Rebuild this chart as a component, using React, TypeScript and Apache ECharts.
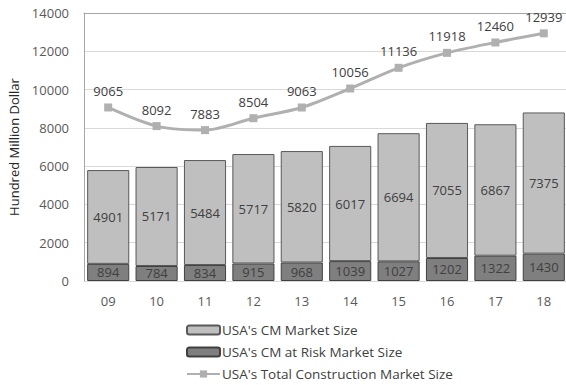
import React, { useEffect, useRef } from "react";
import * as echarts from "echarts";

const years = ["09", "10", "11", "12", "13", "14", "15", "16", "17", "18"];
const riskSize = [894, 784, 834, 915, 968, 1039, 1027, 1202, 1322, 1430];
const cmSize = [4901, 5171, 5484, 5717, 5820, 6017, 6694, 7055, 6867, 7375];
const totalSize = [9065, 8092, 7883, 8504, 9063, 10056, 11136, 11918, 12460, 12939];

const FONT = "'Open Sans', 'Noto Sans', sans-serif";
const TXT = "#404040";

export default function App() {
  const ref = useRef<HTMLDivElement>(null);
  useEffect(() => {
    const chart = echarts.init(ref.current!, null, { renderer: "svg" });
    chart.setOption({
      animation: false,
      textStyle: { fontFamily: FONT },
      grid: { left: 84, right: -2, top: 13, bottom: 104, containLabel: false, outerBoundsMode: "none" },
      legend: {
        orient: "vertical",
        left: 181,
        top: 318,
        height: 80,
        itemWidth: 33,
        itemHeight: 9,
        itemGap: 8,
        textStyle: { color: TXT, fontSize: 13.5, fontFamily: FONT, padding: [0, 0, 0, -3] },
        data: [
          { name: "USA's CM Market Size" },
          { name: "USA's CM at Risk Market Size" },
          { name: "USA's Total Construction Market Size" },
        ],
      },
      xAxis: [
        {
          type: "category",
          data: years,
          axisLine: { show: true, lineStyle: { color: "#d9d9d9" } },
          axisTick: { show: false },
          axisLabel: { color: "#595959", fontSize: 13, margin: 13, fontFamily: FONT },
        },
        {
          type: "category",
          position: "top",
          data: years,
          axisLine: { show: true, lineStyle: { color: "#a6a6a6" } },
          axisTick: { show: false },
          axisLabel: { show: false },
        },
      ],
      yAxis: {
        type: "value",
        min: 0,
        max: 14000,
        interval: 2000,
        name: "Hundred Million Dollar",
        nameLocation: "middle",
        nameGap: 64,
        nameRotate: 90,
        nameTextStyle: { color: "#262626", fontSize: 13, fontFamily: FONT },
        axisLine: { show: true, lineStyle: { color: "#a6a6a6" } },
        axisTick: { show: false },
        axisLabel: { color: "#595959", fontSize: 13, margin: 15, fontFamily: FONT, formatter: (v: number) => String(v) },
        splitLine: { lineStyle: { color: "#d9d9d9" } },
      },
      series: [
        {
          name: "USA's CM at Risk Market Size",
          type: "bar",
          stack: "cm",
          data: riskSize,
          barCategoryGap: "13%",
          itemStyle: { color: "#7f7f7f", borderColor: "#404040", borderWidth: 1 },
          label: { show: true, position: "inside", color: TXT, fontSize: 13, fontFamily: FONT },
        },
        {
          name: "USA's CM Market Size",
          type: "bar",
          stack: "cm",
          data: cmSize,
          barCategoryGap: "13%",
          itemStyle: { color: "#bfbfbf", borderColor: "#595959", borderWidth: 1 },
          label: { show: true, position: "inside", color: TXT, fontSize: 13, fontFamily: FONT },
        },
        {
          name: "USA's Total Construction Market Size",
          type: "line",
          data: totalSize,
          smooth: 0.3,
          symbol: "rect",
          symbolSize: 8,
          lineStyle: { color: "#b0b0b0", width: 3 },
          itemStyle: { color: "#b0b0b0" },
          label: { show: true, position: "top", distance: 6, color: TXT, fontSize: 13, fontFamily: FONT },
        },
      ],
    });
    return () => chart.dispose();
  }, []);
  return <div ref={ref} style={{ width: 566, height: 385, position: "absolute", left: 0, top: 0, background: "#fff" }} />;
}
